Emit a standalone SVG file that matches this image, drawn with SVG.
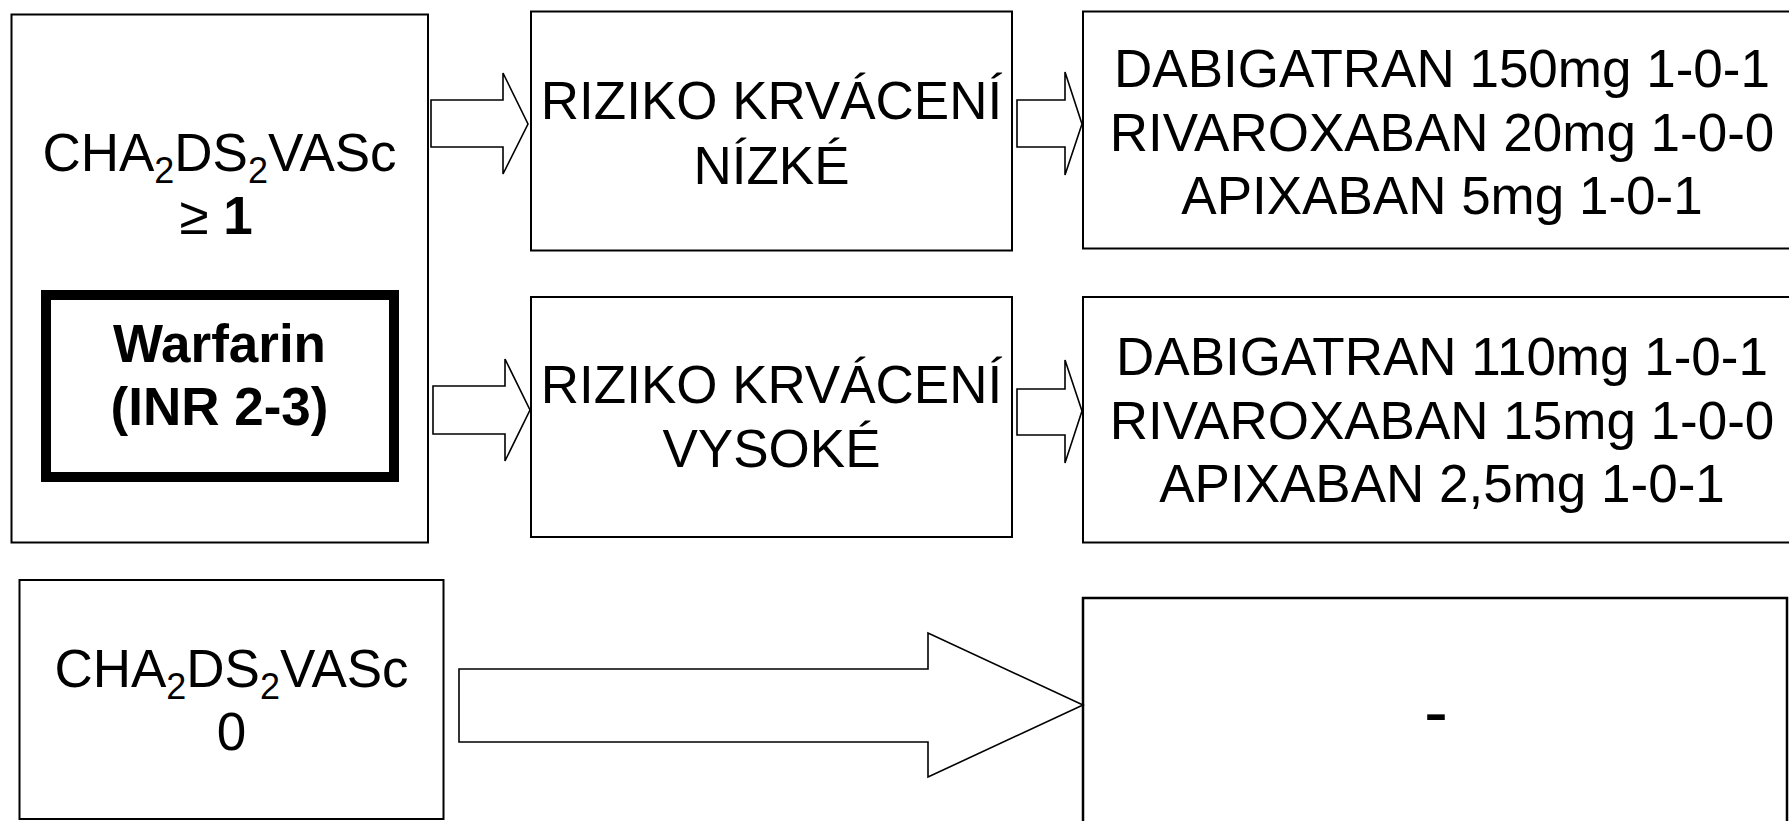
<svg xmlns="http://www.w3.org/2000/svg" width="1789" height="821" viewBox="0 0 1789 821">
  <style>
    .box { fill: #ffffff; stroke: #000000; stroke-width: 2; }
    .heavy { fill: #ffffff; stroke: #000000; stroke-width: 10; }
    .arrow { fill: #ffffff; stroke: #000000; stroke-width: 1.6; stroke-linejoin: miter; }
    text { font-family: "Liberation Sans", Arial, sans-serif; font-size: 53px; fill: #000000; text-anchor: middle; }
    .b { font-weight: bold; }
    .sub { font-size: 36px; }
  </style>
  <rect width="1789" height="821" fill="#ffffff"/>

  <!-- score >= 1, with the warfarin alternative inside -->
  <g id="score-high">
    <rect class="box" x="11.5" y="14.5" width="416.5" height="528"/>
    <text x="219.5" y="171">CHA<tspan class="sub" dy="12">2</tspan><tspan dy="-12">DS</tspan><tspan class="sub" dy="12">2</tspan><tspan dy="-12">VASc</tspan></text>
    <text x="216" y="234">≥ <tspan class="b">1</tspan></text>
  </g>
  <g id="warfarin">
    <rect class="heavy" x="46" y="295" width="348" height="182"/>
    <text class="b" x="219.5" y="362">Warfarin</text>
    <text class="b" x="219.5" y="425">(INR 2-3)</text>
  </g>

  <g id="risk-low">
    <rect class="box" x="531" y="11.5" width="481" height="239"/>
    <text x="771.5" y="119">RIZIKO KRVÁCENÍ</text>
    <text x="771.5" y="184">NÍZKÉ</text>
  </g>
  <g id="risk-high">
    <rect class="box" x="531" y="297" width="481" height="240"/>
    <text x="771.5" y="403">RIZIKO KRVÁCENÍ</text>
    <text x="771.5" y="467">VYSOKÉ</text>
  </g>

  <g id="dose-standard">
    <rect class="box" x="1083" y="11.5" width="730" height="237"/>
    <text x="1442" y="87">DABIGATRAN 150mg 1-0-1</text>
    <text x="1442" y="151">RIVAROXABAN 20mg 1-0-0</text>
    <text x="1442" y="214">APIXABAN 5mg 1-0-1</text>
  </g>
  <g id="dose-reduced">
    <rect class="box" x="1083" y="297" width="730" height="245.5"/>
    <text x="1442" y="375">DABIGATRAN 110mg 1-0-1</text>
    <text x="1442" y="439">RIVAROXABAN 15mg 1-0-0</text>
    <text x="1442" y="502">APIXABAN 2,5mg 1-0-1</text>
  </g>

  <g id="score-zero">
    <rect class="box" x="19.5" y="580" width="424" height="239"/>
    <text x="231.5" y="687">CHA<tspan class="sub" dy="12">2</tspan><tspan dy="-12">DS</tspan><tspan class="sub" dy="12">2</tspan><tspan dy="-12">VASc</tspan></text>
    <text x="231.5" y="750">0</text>
  </g>
  <g id="no-treatment">
    <rect class="box" x="1083" y="598" width="704" height="240" style="stroke-width:2.5"/>
    <text x="1436" y="736" style="font-size:72px">-</text>
  </g>

  <!-- block arrows between the steps -->
  <g id="connectors">
    <polygon class="arrow" points="431,100 503,100 503,73 528,124 503,174 503,147 431,147"/>
    <polygon class="arrow" points="433,386 505,386 505,359 530,410 505,461 505,434 433,434"/>
    <polygon class="arrow" points="1017,100 1065,100 1065,72 1082,124 1065,175 1065,147 1017,147"/>
    <polygon class="arrow" points="1017,389 1065,389 1065,360 1082,411 1065,463 1065,435 1017,435"/>
    <polygon class="arrow" points="459,669 928,669 928,633 1083,705 928,777 928,742 459,742"/>
  </g>
</svg>
